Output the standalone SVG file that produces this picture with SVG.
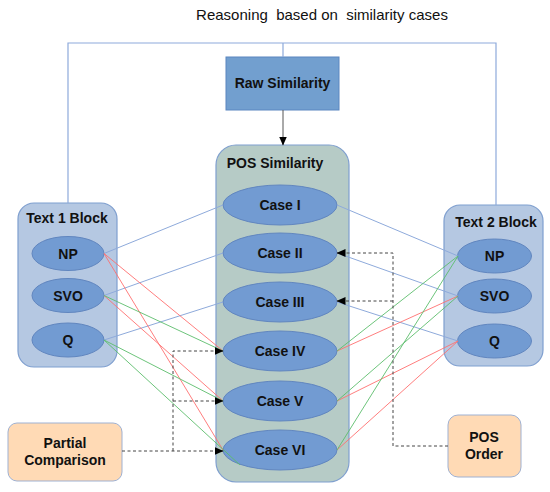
<svg xmlns="http://www.w3.org/2000/svg" width="550" height="492" viewBox="0 0 550 492">
<defs>
<marker id="ah" markerWidth="9" markerHeight="8" refX="8.5" refY="4" orient="auto" markerUnits="userSpaceOnUse">
<path d="M0,0 L9,4 L0,8 Z" fill="#000"/>
</marker>
<style>
text{font-family:"Liberation Sans",Arial,sans-serif;font-weight:bold;font-size:14px;fill:#111;text-anchor:middle}
.title{font-weight:normal;font-size:15px}
.block{fill:#b5c8e2;stroke:#7f9fcf;stroke-width:1.2}
.ell{fill:#729bd2;stroke:#6186bf;stroke-width:1}
.cont{fill:#b6cbc6;stroke:#7f9fcf;stroke-width:1.2}
.raw{fill:#729fcf;stroke:#5b86c0;stroke-width:1}
.orange{fill:#ffdab5;stroke:#9fb1d2;stroke-width:1}
.frame{fill:none;stroke:#8eaadb;stroke-width:1.2}
.blue{stroke:#8eaadb;stroke-width:1;fill:none}
.red{stroke:#ff6f6f;stroke-width:0.9;fill:none}
.green{stroke:#5cbd6c;stroke-width:0.9;fill:none}
.dash{stroke:#444;stroke-width:1;stroke-dasharray:3 2.5;fill:none}
.arr{stroke:#555;stroke-width:1;fill:none}
</style>
</defs>
<text class="title" x="322" y="20" xml:space="preserve">Reasoning  based on  similarity cases</text>

<g id="raw-similarity">
<rect class="raw" x="226" y="57" width="113" height="53"/>
<text x="282.5" y="88">Raw Similarity</text>
</g>

<g id="pos-similarity">
<rect class="cont" x="216" y="145" width="133" height="337" rx="20"/>
<text x="275" y="168">POS Similarity</text>
</g>

<g id="text1-block">
<rect class="block" x="18" y="203" width="99" height="164" rx="16"/>
<text x="67" y="223">Text 1 Block</text>
</g>
<g id="t1-np"><ellipse class="ell" cx="68" cy="253.5" rx="36" ry="17"/><text x="68" y="258.5">NP</text></g>
<g id="t1-svo"><ellipse class="ell" cx="68" cy="295.5" rx="36" ry="17"/><text x="68" y="300.5">SVO</text></g>
<g id="t1-q"><ellipse class="ell" cx="68" cy="340" rx="36" ry="17"/><text x="68" y="345">Q</text></g>

<g id="text2-block">
<rect class="block" x="444" y="205" width="99" height="161" rx="16"/>
<text x="496" y="227">Text 2 Block</text>
</g>
<g id="t2-np"><ellipse class="ell" cx="494.5" cy="256" rx="37" ry="17"/><text x="494.5" y="261">NP</text></g>
<g id="t2-svo"><ellipse class="ell" cx="494.5" cy="296" rx="37" ry="17"/><text x="494.5" y="301">SVO</text></g>
<g id="t2-q"><ellipse class="ell" cx="494.5" cy="341" rx="37" ry="17"/><text x="494.5" y="346">Q</text></g>

<g id="case1"><ellipse class="ell" cx="280" cy="205" rx="57" ry="20"/><text x="280" y="210">Case I</text></g>
<g id="case2"><ellipse class="ell" cx="280" cy="253" rx="57" ry="20"/><text x="280" y="258">Case II</text></g>
<g id="case3"><ellipse class="ell" cx="280" cy="302" rx="57" ry="20"/><text x="280" y="307">Case III</text></g>
<g id="case4"><ellipse class="ell" cx="280" cy="351" rx="57" ry="20"/><text x="280" y="356">Case IV</text></g>
<g id="case5"><ellipse class="ell" cx="280" cy="401" rx="57" ry="20"/><text x="280" y="406">Case V</text></g>
<g id="case6"><ellipse class="ell" cx="280" cy="450" rx="57" ry="20"/><text x="280" y="455">Case VI</text></g>

<g id="partial-comparison">
<rect class="orange" x="8" y="423" width="114" height="58" rx="9"/>
<text x="65" y="448">Partial</text>
<text x="65" y="465">Comparison</text>
</g>
<g id="pos-order">
<rect class="orange" x="448" y="415" width="73" height="62" rx="10"/>
<text x="484" y="442">POS</text>
<text x="484" y="459">Order</text>
</g>

<g id="connectors">
<path class="frame" d="M68,203 V43 H496 V205 M283,43 V57"/>
<path class="arr" d="M283,110 V145" marker-end="url(#ah)"/>

<path class="blue" d="M104,253.5 L223,205 M104,295.5 L223,253 M104,340 L223,302 M337,205 L458,256 M337,253 L458,296 M337,302 L458,341"/>
<path class="red" d="M104,253.5 L223,351 M104,253.5 L223,450 M104,295.5 L223,401 M458,296 L337,351 M458,341 L337,401 M458,341 L337,450"/>
<path class="green" d="M104,295.5 L223,351 M104,340 L223,401 M104,340 L240,465 M458,256 L337,351 M458,256 L337,450 M458,296 L337,401"/>

<path class="dash" d="M122,451 H223" marker-end="url(#ah)"/>
<path class="dash" d="M173,451 V351 H223" marker-end="url(#ah)"/>
<path class="dash" d="M173,401 H223" marker-end="url(#ah)"/>
<path class="dash" d="M448,446 H393 V253 H337" marker-end="url(#ah)"/>
<path class="dash" d="M393,301 H337" marker-end="url(#ah)"/>
</g>
</svg>
